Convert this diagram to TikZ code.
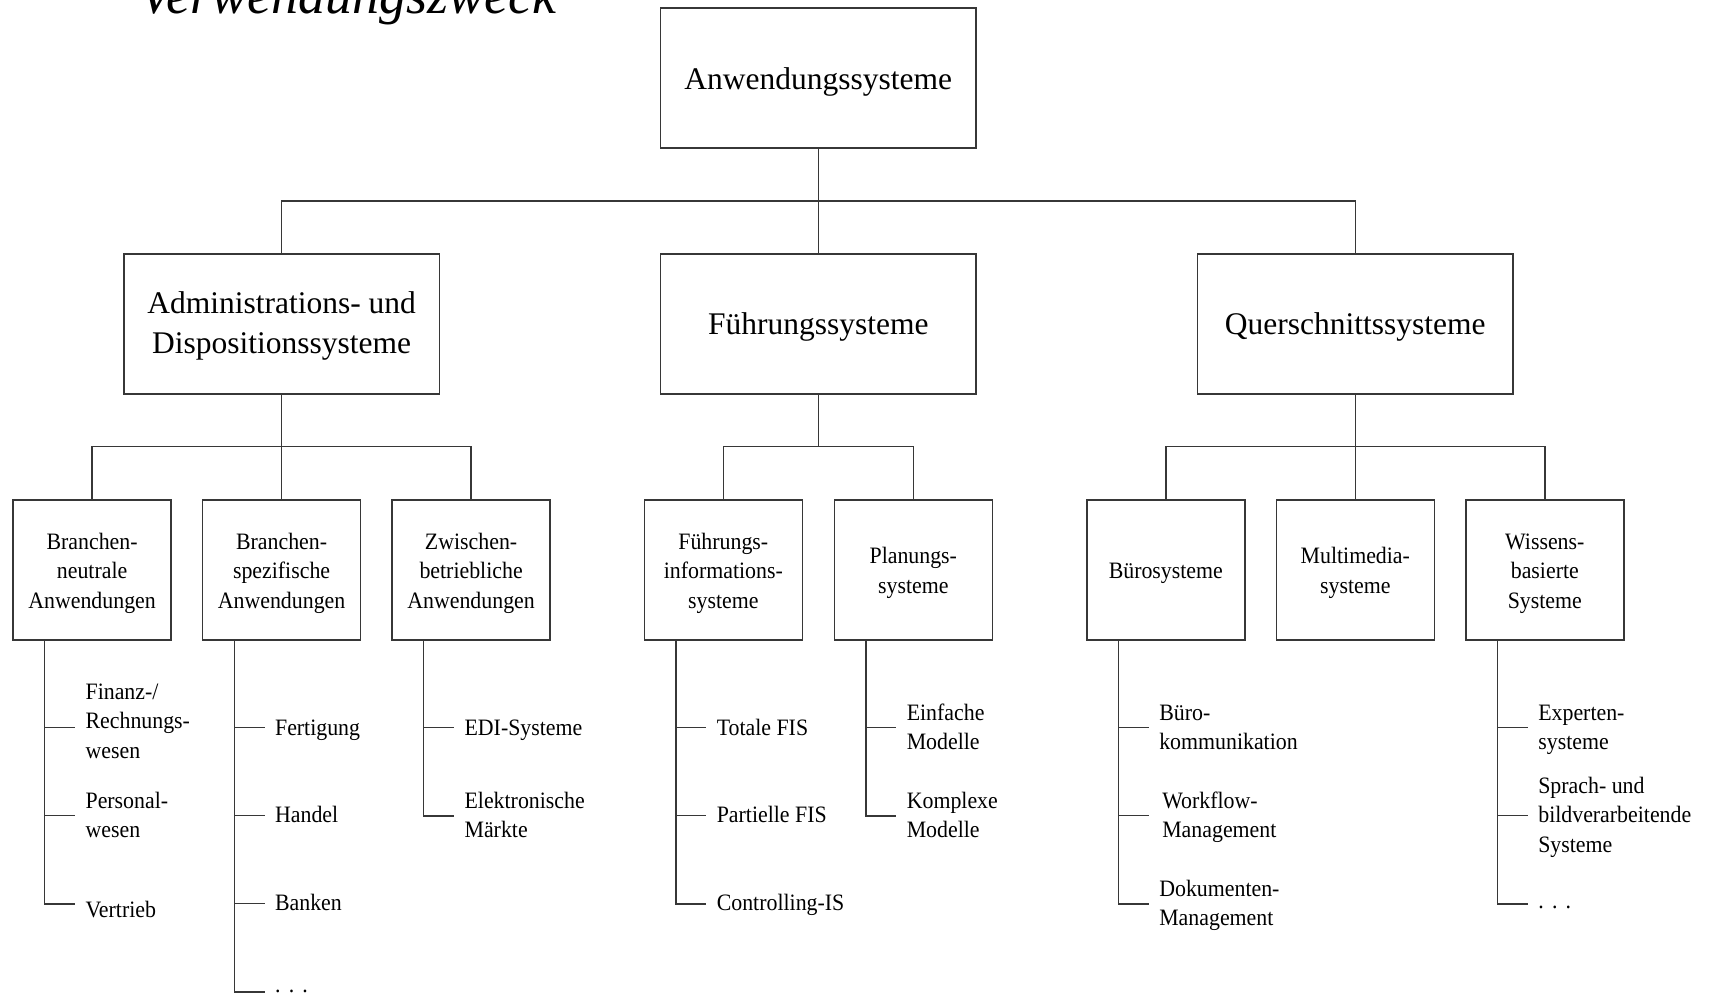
\documentclass[tikz,border=0pt]{standalone}
\usepackage{fontspec}
\setmainfont{Liberation Serif}
\newfontfamily\bigserif{Liberation Serif}
\newfontfamily\smallserif[FakeStretch=0.93]{Liberation Serif}
\definecolor{linegray}{RGB}{55,55,55}
% stacked lines, first baseline is the node baseline
\newcommand{\stackc}[1]{\begin{tabular}[t]{@{}c@{}}#1\end{tabular}}
\newcommand{\stackl}[1]{\begin{tabular}[t]{@{}l@{}}#1\end{tabular}}
\begin{document}
\begin{tikzpicture}[x=1pt,y=-1pt,
  box/.style={draw=linegray, line width=1.4pt, inner sep=0pt, minimum height=140pt},
  bigbox/.style={box, minimum width=315.5pt},
  smallbox/.style={box, minimum width=158pt},
  conn/.style={draw=linegray, line width=1.4pt},
  bigtext/.style={anchor=base, inner sep=0pt, font=\bigserif\fontsize{31.5}{40.5}\selectfont},
  boxtext/.style={anchor=base, inner sep=0pt, font=\smallserif\fontsize{23.5}{29.5}\selectfont},
  leaftext/.style={anchor=base west, inner sep=0pt, font=\smallserif\fontsize{23.5}{29.5}\selectfont}]
\useasboundingbox (0,0) rectangle (1712,994);
\clip (0,0) rectangle (1712,994);

% heading
\node[anchor=base west, inner sep=0pt, font=\bigserif\itshape\fontsize{54}{60}\selectfont] (title) at (139,13.5) {Verwendungszweck};

% level 1
\node[bigbox] (top) at (818.3,78) {};
\node[bigtext] (t-top) at (818.3,89.3) {Anwendungssysteme};

% level 2
\node[bigbox] (adm) at (281.6,324) {};
\node[bigbox] (fue) at (818.3,324) {};
\node[bigbox] (que) at (1355.3,324) {};
\node[bigtext] (t-adm) at (281.6,313) {\stackc{Administrations- und\\Dispositionssysteme}};
\node[bigtext] (t-fue) at (818.3,334.5) {Führungssysteme};
\node[bigtext] (t-que) at (1355.3,334.5) {Querschnittssysteme};

% level 3
\node[smallbox] (adm1) at (92.1,570) {};
\node[smallbox] (adm2) at (281.6,570) {};
\node[smallbox] (adm3) at (471.1,570) {};
\node[smallbox] (fue1) at (723.3,570) {};
\node[smallbox] (fue2) at (913.3,570) {};
\node[smallbox] (que1) at (1165.8,570) {};
\node[smallbox] (que2) at (1355.3,570) {};
\node[smallbox] (que3) at (1544.8,570) {};

\node[boxtext] (t-adm1) at (92.1,549) {\stackc{Branchen-\\neutrale\\Anwendungen}};
\node[boxtext] (t-adm2) at (281.6,549) {\stackc{Branchen-\\spezifische\\Anwendungen}};
\node[boxtext] (t-adm3) at (471.1,549) {\stackc{Zwischen-\\betriebliche\\Anwendungen}};
\node[boxtext] (t-fue1) at (723.3,549) {\stackc{Führungs-\\informations-\\systeme}};
\node[boxtext] (t-fue2) at (913.3,563.5) {\stackc{Planungs-\\systeme}};
\node[boxtext] (t-que1) at (1165.8,578) {Bürosysteme};
\node[boxtext] (t-que2) at (1355.3,563.5) {\stackc{Multimedia-\\systeme}};
\node[boxtext] (t-que3) at (1544.8,549) {\stackc{Wissens-\\basierte\\Systeme}};

% tree connectors
\coordinate (j1) at (818.3,201);
\draw[conn] (top.south) -- (fue.north);
\draw[conn] (adm.north) |- (j1) -| (que.north);

\coordinate (j2a) at (281.6,446.7);
\coordinate (j2b) at (818.3,446.7);
\coordinate (j2c) at (1355.3,446.7);
\draw[conn] (adm.south) -- (adm2.north);
\draw[conn] (adm1.north) |- (j2a) -| (adm3.north);
\draw[conn] (fue.south) -- (j2b);
\draw[conn] (fue1.north) |- (j2b) -| (fue2.north);
\draw[conn] (que.south) -- (que2.north);
\draw[conn] (que1.north) |- (j2c) -| (que3.north);

% leaf spines and ticks
\draw[conn] ([xshift=-47.4pt]adm1.south) |- ++(30.5,263.3);
\foreach \t in {727.5,815.4} \draw[conn] (44.7,\t) -- ++(30.5,0);
\draw[conn] ([xshift=-47.4pt]adm2.south) |- ++(30.5,351.2);
\foreach \t in {727.5,815.4,903.3} \draw[conn] (234.2,\t) -- ++(30.5,0);
\draw[conn] ([xshift=-47.4pt]adm3.south) |- ++(30.5,175.4);
\foreach \t in {727.5} \draw[conn] (423.7,\t) -- ++(30.5,0);
\draw[conn] ([xshift=-47.4pt]fue1.south) |- ++(30.5,263.3);
\foreach \t in {727.5,815.4} \draw[conn] (675.9,\t) -- ++(30.5,0);
\draw[conn] ([xshift=-47.4pt]fue2.south) |- ++(30.5,175.4);
\foreach \t in {727.5} \draw[conn] (865.9,\t) -- ++(30.5,0);
\draw[conn] ([xshift=-47.4pt]que1.south) |- ++(30.5,263.3);
\foreach \t in {727.5,815.4} \draw[conn] (1118.4,\t) -- ++(30.5,0);
\draw[conn] ([xshift=-47.4pt]que3.south) |- ++(30.5,263.3);
\foreach \t in {727.5,815.4} \draw[conn] (1497.4,\t) -- ++(30.5,0);

% leaf labels
\node[leaftext] (l-fin) at (85.4,699) {\stackl{Finanz-/\\Rechnungs-\\wesen}};
\node[leaftext] (l-per) at (85.4,808.2) {\stackl{Personal-\\wesen}};
\node[leaftext] (l-ver) at (85.4,917.3) {Vertrieb};

\node[leaftext] (l-fer) at (274.9,735) {Fertigung};
\node[leaftext] (l-han) at (274.9,822.9) {Handel};
\node[leaftext] (l-ban) at (274.9,910.8) {Banken};
\node[leaftext] (l-etc1) at (274.9,992.3) {.\hspace{0.35em}.\hspace{0.35em}.};

\node[leaftext] (l-edi) at (464.4,735) {EDI-Systeme};
\node[leaftext] (l-mae) at (464.4,808.2) {\stackl{Elektronische\\Märkte}};

\node[leaftext] (l-tot) at (716.6,735) {Totale FIS};
\node[leaftext] (l-par) at (716.6,822.9) {Partielle FIS};
\node[leaftext] (l-con) at (716.6,910.8) {Controlling-IS};

\node[leaftext] (l-ein) at (906.6,720.3) {\stackl{Einfache\\Modelle}};
\node[leaftext] (l-kom) at (906.6,808.2) {\stackl{Komplexe\\Modelle}};

\node[leaftext] (l-bue) at (1159.1,720.3) {\stackl{Büro-\\kommunikation}};
\node[leaftext] (l-wor) at (1162.1,808.2) {\stackl{Workflow-\\Management}};
\node[leaftext] (l-dok) at (1159.1,896.1) {\stackl{Dokumenten-\\Management}};

\node[leaftext] (l-exp) at (1538.1,720.3) {\stackl{Experten-\\systeme}};
\node[leaftext] (l-spr) at (1538.1,793.4) {\stackl{Sprach- und\\bildverarbeitende\\Systeme}};
\node[leaftext] (l-etc2) at (1538.1,908.3) {.\hspace{0.35em}.\hspace{0.35em}.};
\end{tikzpicture}
\end{document}
